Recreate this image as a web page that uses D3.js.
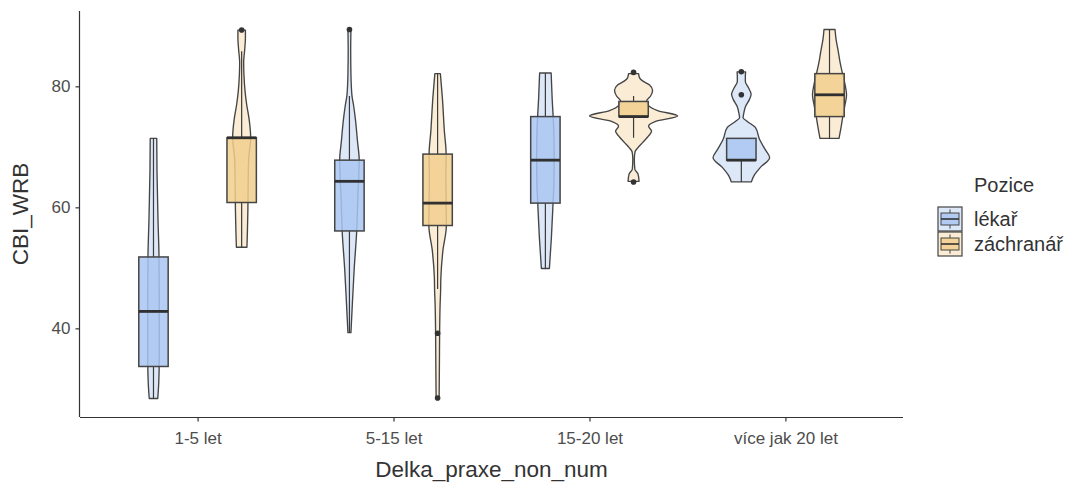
<!DOCTYPE html>
<html>
<head>
<meta charset="utf-8">
<script src="https://cdn.jsdelivr.net/npm/d3@7"></script>
<style>
  body { margin: 0; background: #ffffff; }
  svg { display: block; }
  text { font-family: "Liberation Sans", Arial, Helvetica, sans-serif; }
</style>
</head>
<body>
<svg id="chart" width="1089" height="489"></svg>
<script>
// ---- data -------------------------------------------------------------
const categories = ["1-5 let", "5-15 let", "15-20 let", "více jak 20 let"];
const positions = ["lékař", "záchranář"];
const yTicks = [40, 60, 80];

// box statistics, one value per category
const lekarLow     = [28.4, 39.3, 49.9, 64.2];
const lekarQ1      = [33.7, 56.1, 60.7, 67.8];
const lekarMedian  = [42.8, 64.3, 67.8, 67.8];
const lekarQ3      = [51.8, 67.8, 75.0, 71.4];
const lekarHigh    = [71.4, 78.4, 82.2, 71.4];
const lekarOutliers = [[], [89.4], [], [78.6, 82.4]];

const zachLow      = [53.4, 46.5, 71.5, 71.4];
const zachQ1       = [60.8, 57.0, 75.0, 75.0];
const zachMedian   = [71.5, 60.7, 75.0, 78.6];
const zachQ3       = [71.5, 68.8, 77.5, 82.1];
const zachHigh     = [85.8, 82.1, 78.4, 89.4];
const zachOutliers = [[89.3], [39.2, 28.5], [82.3, 64.2], []];

// kernel density profiles: [CBI_WRB value, density]
const lekarDensity = [
  [[28.4,.017],[31,.021],[35,.023],[45,.023],[52,.022],[58,.018],[62,.016],[66,.014],[71.4,.013]],
  [[39.3,.006],[44.3,.012],[49.8,.019],[56,.029],[62,.034],[66,.038],[67.8,.039],[71,.032],[74.5,.024],[77,.016],[78.5,.010],[82,.006],[86,.005],[89.4,.006]],
  [[49.9,.016],[55,.024],[60.2,.030],[64,.034],[68,.035],[72,.034],[75,.031],[78,.027],[82.2,.023]],
  [[64.2,.040],[65.2,.050],[66.6,.076],[68.2,.113],[69.5,.096],[71.2,.073],[73.2,.056],[74.2,.024],[74.8,.007],[75.6,.010],[76.7,.017],[77.8,.032],[78.7,.039],[79.8,.028],[80.8,.016],[81.6,.016],[82.4,.017]]
];
const zachranarDensity = [
  [[53.4,.021],[56,.023],[60,.025],[64,.026],[68,.028],[71.5,.036],[74.5,.030],[77,.020],[79,.014],[82,.009],[84,.008],[86,.012],[88,.015],[89.3,.015]],
  [[28.5,.006],[33,.007],[39.2,.008],[44,.010],[46.2,.012],[48.4,.013],[52.8,.021],[57,.035],[61,.034],[65,.033],[68.8,.034],[72.6,.027],[78.1,.019],[82.1,.011]],
  [[64.3,.022],[65.5,.018],[66.3,.005],[68,.003],[69.2,.006],[69.8,.016],[70.7,.036],[71.8,.060],[72.6,.072],[73.4,.060],[74.2,.088],[75.1,.176],[76.0,.096],[76.8,.060],[77.6,.052],[78.4,.068],[79.3,.076],[80.2,.064],[80.9,.036],[81.4,.024],[82.1,.020]],
  [[71.4,.038],[73.2,.046],[75,.053],[77,.062],[78.6,.068],[80.3,.062],[82.1,.052],[84,.042],[86,.034],[87.8,.026],[89.4,.022]]
];

// ---- styling ------------------------------------------------------------
const violinFill = { "lékař": "#dce7f8", "záchranář": "#fbecd5" };
const boxFill    = { "lékař": "#a9c6f2", "záchranář": "#f1cf8d" };
const lineColor = "#454545";

// ---- assemble groups from the arrays ----------------------------------
const groups = [];
categories.forEach((cat, i) => {
  groups.push({ cat, pos: "lékař", low: lekarLow[i], q1: lekarQ1[i], med: lekarMedian[i],
    q3: lekarQ3[i], high: lekarHigh[i], out: lekarOutliers[i], dens: lekarDensity[i] });
  groups.push({ cat, pos: "záchranář", low: zachLow[i], q1: zachQ1[i], med: zachMedian[i],
    q3: zachQ3[i], high: zachHigh[i], out: zachOutliers[i], dens: zachranarDensity[i] });
});

const svg = d3.select("#chart");
const panel = { left: 80, right: 903, top: 11, bottom: 417 };

// scales
const x = d3.scalePoint().domain(categories).range([panel.left, panel.right]).padding(0.6);
const step = x.step();
const dodge = d3.scaleBand().domain(positions).range([-0.45 * step, 0.45 * step]);
const cx = g => x(g.cat) + dodge(g.pos) + dodge.bandwidth() / 2;

const allVals = [];
groups.forEach(g => { g.dens.forEach(d => allVals.push(d[0])); allVals.push(g.low, g.high, ...g.out); });
const [vmin, vmax] = d3.extent(allVals);
const pad = (vmax - vmin) * 0.05;
const y = d3.scaleLinear().domain([vmin - pad, vmax + pad]).range([panel.bottom, panel.top]);

const dmax = d3.max(groups, g => d3.max(g.dens, d => d[1]));
const w = d3.scaleLinear().domain([0, dmax]).range([0, dodge.bandwidth() / 2]);
const boxWidth = 0.15 * step;

// ---- violins --------------------------------------------------------------
const violins = svg.append("g");
groups.forEach(g => {
  const c = cx(g);
  const area = d3.area()
    .curve(d3.curveMonotoneY)
    .y(d => y(d[0]))
    .x0(d => c - w(d[1]))
    .x1(d => c + w(d[1]));
  violins.append("path")
    .attr("d", area(g.dens))
    .attr("fill", violinFill[g.pos])
    .attr("stroke", lineColor)
    .attr("stroke-width", 1.35)
    .attr("stroke-linejoin", "round");
});

// ---- boxplots -------------------------------------------------------------
const boxes = svg.append("g");
groups.forEach(g => {
  const c = cx(g);
  const b = boxes.append("g");
  b.append("line").attr("x1", c).attr("x2", c).attr("y1", y(g.q3)).attr("y2", y(g.high))
    .attr("stroke", "#3a3a3a").attr("stroke-width", 1.2);
  b.append("line").attr("x1", c).attr("x2", c).attr("y1", y(g.q1)).attr("y2", y(g.low))
    .attr("stroke", "#3a3a3a").attr("stroke-width", 1.2);
  b.append("rect")
    .attr("x", c - boxWidth / 2).attr("width", boxWidth)
    .attr("y", y(g.q3)).attr("height", y(g.q1) - y(g.q3))
    .attr("fill", boxFill[g.pos]).attr("fill-opacity", 0.85)
    .attr("stroke", lineColor).attr("stroke-width", 1.5);
  b.append("line")
    .attr("x1", c - boxWidth / 2).attr("x2", c + boxWidth / 2)
    .attr("y1", y(g.med)).attr("y2", y(g.med))
    .attr("stroke", "#303030").attr("stroke-width", 2.8);
  g.out.forEach(v => {
    b.append("circle").attr("cx", c).attr("cy", y(v)).attr("r", 2.8).attr("fill", "#333333");
  });
});

// ---- axes -----------------------------------------------------------------
const xAxis = svg.append("g")
  .attr("transform", `translate(0,${panel.bottom})`)
  .call(d3.axisBottom(x).tickSizeOuter(0).tickSizeInner(4.5).tickPadding(10));
const yAxis = svg.append("g")
  .attr("transform", `translate(${panel.left},0)`)
  .call(d3.axisLeft(y).tickValues(yTicks).tickSizeOuter(0).tickSizeInner(4.5).tickPadding(5));

[xAxis, yAxis].forEach(a => {
  a.select(".domain").attr("stroke", "#333333").attr("stroke-width", 1.2);
  a.selectAll(".tick line").attr("stroke", "#333333").attr("stroke-width", 1.2);
  a.selectAll(".tick text").attr("fill", "#4d4d4d").attr("font-size", 17)
    .style("font-family", '"Liberation Sans", Arial, sans-serif');
});
// keep the axis line to the panel extent
xAxis.select(".domain").attr("d", `M${panel.left},0.5H${panel.right}`);
yAxis.select(".domain").attr("d", `M-0.5,${panel.bottom}V${panel.top}`);

// axis titles
svg.append("text")
  .attr("x", (panel.left + panel.right) / 2).attr("y", 477)
  .attr("text-anchor", "middle").attr("font-size", 22.5).attr("fill", "#333333")
  .text("Delka_praxe_non_num");
svg.append("text")
  .attr("transform", `translate(28,${(panel.top + panel.bottom) / 2}) rotate(-90)`)
  .attr("text-anchor", "middle").attr("font-size", 22.5).attr("fill", "#333333")
  .text("CBI_WRB");

// ---- legend ---------------------------------------------------------------
const legend = svg.append("g");
legend.append("text").attr("x", 974).attr("y", 192)
  .attr("font-size", 20).attr("fill", "#333333").text("Pozice");
const keySize = 24;
positions.forEach((p, i) => {
  const kx = 938, ky = 207 + i * (keySize + 1);
  const k = legend.append("g");
  k.append("rect").attr("x", kx).attr("y", ky).attr("width", keySize).attr("height", keySize)
    .attr("fill", violinFill[p]).attr("stroke", lineColor).attr("stroke-width", 1.2);
  const mx = kx + keySize / 2;
  k.append("line").attr("x1", mx).attr("x2", mx).attr("y1", ky + keySize * 0.1).attr("y2", ky + keySize * 0.25)
    .attr("stroke", lineColor).attr("stroke-width", 1);
  k.append("line").attr("x1", mx).attr("x2", mx).attr("y1", ky + keySize * 0.75).attr("y2", ky + keySize * 0.9)
    .attr("stroke", lineColor).attr("stroke-width", 1);
  k.append("rect").attr("x", kx + keySize * 0.125).attr("y", ky + keySize * 0.25)
    .attr("width", keySize * 0.75).attr("height", keySize * 0.5)
    .attr("fill", boxFill[p]).attr("fill-opacity", 0.85)
    .attr("stroke", lineColor).attr("stroke-width", 1);
  k.append("line").attr("x1", kx + keySize * 0.125).attr("x2", kx + keySize * 0.875)
    .attr("y1", ky + keySize / 2).attr("y2", ky + keySize / 2)
    .attr("stroke", "#333333").attr("stroke-width", 1.6);
  legend.append("text").attr("x", 974).attr("y", ky + keySize / 2 + 7)
    .attr("font-size", 20).attr("fill", "#333333").text(p);
});
</script>
</body>
</html>
